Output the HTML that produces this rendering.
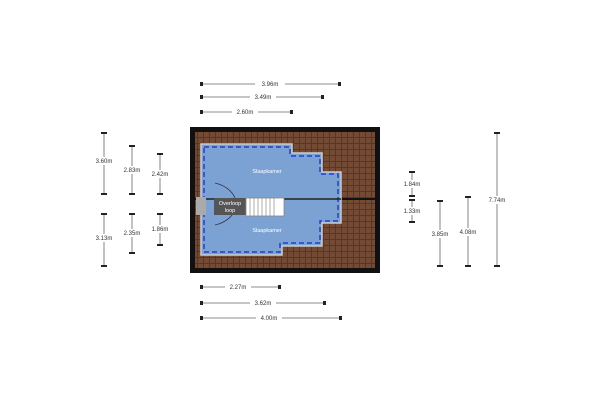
<!DOCTYPE html>
<html><head><meta charset="utf-8"><style>
html,body{margin:0;padding:0;background:#fff;}
svg{display:block;font-family:"Liberation Sans",sans-serif;}
</style></head><body>
<svg width="600" height="400" viewBox="0 0 600 400" xmlns="http://www.w3.org/2000/svg">
<defs>
<pattern id="br" width="6" height="6" patternUnits="userSpaceOnUse">
<rect width="6" height="6" fill="#744a33"/>
<path d="M0 5.5H6M5.5 0V6" stroke="#56362a" stroke-width="1"/>
</pattern>
</defs>
<rect x="190" y="127" width="190" height="146" fill="#111"/>
<rect x="195" y="132" width="180" height="136" fill="url(#br)"/>
<line x1="195" y1="199" x2="375" y2="199" stroke="#111" stroke-width="2"/>
<polygon points="201,144 292,144 292,153 322,153 322,172 341,172 341,223 322,223 322,246 282,246 282,255 201,255" fill="#7ca2d4" stroke="#ccc" stroke-width="1.5"/>
<polyline points="204,147 290,147 290,156 320,156 320,174 338,174 338,221 320,221 320,243 280,243 280,252 204,252 204,147" fill="none" stroke="#1f3fd0" stroke-width="1.5" stroke-dasharray="5,3"/>
<line x1="201" y1="199" x2="341" y2="199" stroke="#222" stroke-width="1.5"/>
<path d="M215,183 A30,22 0 0 1 215,225" fill="none" stroke="#334" stroke-width="0.8"/>
<rect x="196" y="197" width="10" height="18" fill="#aaa"/>
<rect x="214" y="198" width="32" height="17" fill="#555"/>
<text x="230" y="205" font-size="5.5" fill="#fff" text-anchor="middle">Overloop</text>
<text x="230" y="212" font-size="5.5" fill="#fff" text-anchor="middle">loop</text>
<rect x="246" y="198" width="38" height="18" fill="#fff" stroke="#888" stroke-width="0.8"/>
<g stroke="#777" stroke-width="0.6">
<line x1="250" y1="198" x2="250" y2="216"/><line x1="254" y1="198" x2="254" y2="216"/><line x1="258" y1="198" x2="258" y2="216"/><line x1="262" y1="198" x2="262" y2="216"/><line x1="266" y1="198" x2="266" y2="216"/><line x1="270" y1="198" x2="270" y2="216"/><line x1="274" y1="198" x2="274" y2="216"/></g>
<text x="267" y="173" font-size="5.5" fill="#fff" text-anchor="middle">Slaapkamer</text>
<text x="267" y="232" font-size="5.5" fill="#fff" text-anchor="middle">Slaapkamer</text>
<g stroke="#666" stroke-width="0.8" fill="none">
<line x1="202" y1="84" x2="340" y2="84"/><line x1="202" y1="97" x2="323" y2="97"/><line x1="202" y1="112" x2="292" y2="112"/>
<line x1="202" y1="287" x2="280" y2="287"/><line x1="202" y1="303" x2="325" y2="303"/><line x1="202" y1="318" x2="341" y2="318"/>
<line x1="104" y1="133" x2="104" y2="194"/><line x1="104" y1="214" x2="104" y2="266"/>
<line x1="132" y1="146" x2="132" y2="194"/><line x1="132" y1="214" x2="132" y2="253"/>
<line x1="160" y1="154" x2="160" y2="194"/><line x1="160" y1="214" x2="160" y2="245"/>
<line x1="412" y1="172" x2="412" y2="196"/><line x1="412" y1="200" x2="412" y2="222"/>
<line x1="440" y1="201" x2="440" y2="266"/><line x1="468" y1="197" x2="468" y2="266"/><line x1="497" y1="133" x2="497" y2="266"/>
</g>
<g fill="#222">
<rect x="200" y="82" width="3" height="4"/><rect x="338" y="82" width="3" height="4"/>
<rect x="200" y="95" width="3" height="4"/><rect x="321" y="95" width="3" height="4"/>
<rect x="200" y="110" width="3" height="4"/><rect x="290" y="110" width="3" height="4"/>
<rect x="200" y="285" width="3" height="4"/><rect x="278" y="285" width="3" height="4"/>
<rect x="200" y="301" width="3" height="4"/><rect x="323" y="301" width="3" height="4"/>
<rect x="200" y="316" width="3" height="4"/><rect x="339" y="316" width="3" height="4"/>
<rect x="101" y="132" width="6" height="2"/><rect x="101" y="193" width="6" height="2"/><rect x="101" y="213" width="6" height="2"/><rect x="101" y="265" width="6" height="2"/>
<rect x="129" y="145" width="6" height="2"/><rect x="129" y="193" width="6" height="2"/><rect x="129" y="213" width="6" height="2"/><rect x="129" y="252" width="6" height="2"/>
<rect x="157" y="153" width="6" height="2"/><rect x="157" y="193" width="6" height="2"/><rect x="157" y="213" width="6" height="2"/><rect x="157" y="244" width="6" height="2"/>
<rect x="409" y="171" width="6" height="2"/><rect x="409" y="195" width="6" height="2"/><rect x="409" y="199" width="6" height="2"/><rect x="409" y="221" width="6" height="2"/>
<rect x="437" y="200" width="6" height="2"/><rect x="437" y="265" width="6" height="2"/>
<rect x="465" y="196" width="6" height="2"/><rect x="465" y="265" width="6" height="2"/>
<rect x="494" y="132" width="6" height="2"/><rect x="494" y="265" width="6" height="2"/>
</g>
<g font-size="6" fill="#333" text-anchor="middle">
<rect x="255" y="80" width="30" height="8" fill="#fff"/><text x="270" y="86">3.96m</text>
<rect x="250" y="93" width="26" height="8" fill="#fff"/><text x="263" y="99">3.49m</text>
<rect x="232" y="108" width="26" height="8" fill="#fff"/><text x="245" y="114">2.60m</text>
<rect x="225" y="283" width="26" height="8" fill="#fff"/><text x="238" y="289">2.27m</text>
<rect x="250" y="299" width="26" height="8" fill="#fff"/><text x="263" y="305">3.62m</text>
<rect x="256" y="314" width="26" height="8" fill="#fff"/><text x="269" y="320">4.00m</text>
<rect x="92" y="157" width="24" height="8" fill="#fff"/><text x="104" y="163">3.60m</text>
<rect x="92" y="234" width="24" height="8" fill="#fff"/><text x="104" y="240">3.13m</text>
<rect x="120" y="166" width="24" height="8" fill="#fff"/><text x="132" y="172">2.83m</text>
<rect x="120" y="229" width="24" height="8" fill="#fff"/><text x="132" y="235">2.35m</text>
<rect x="148" y="170" width="24" height="8" fill="#fff"/><text x="160" y="176">2.42m</text>
<rect x="148" y="225" width="24" height="8" fill="#fff"/><text x="160" y="231">1.86m</text>
<rect x="400" y="180" width="24" height="8" fill="#fff"/><text x="412" y="186">1.84m</text>
<rect x="400" y="207" width="24" height="8" fill="#fff"/><text x="412" y="213">1.33m</text>
<rect x="428" y="230" width="24" height="8" fill="#fff"/><text x="440" y="236">3.85m</text>
<rect x="456" y="228" width="24" height="8" fill="#fff"/><text x="468" y="234">4.08m</text>
<rect x="485" y="196" width="24" height="8" fill="#fff"/><text x="497" y="202">7.74m</text>
</g>
</svg>
</body></html>
